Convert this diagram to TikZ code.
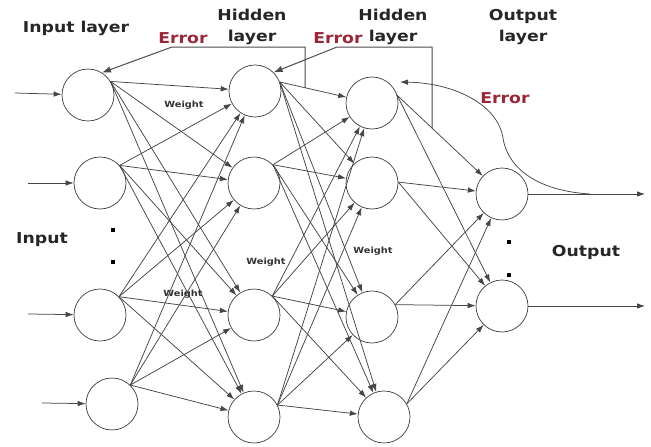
\documentclass[tikz,border=0pt]{standalone}
\usepackage{fontspec}
\setsansfont{DejaVu Sans}[FakeStretch=1.15]
\usetikzlibrary{arrows.meta}
\definecolor{errred}{RGB}{155,40,55}
\definecolor{ln}{RGB}{70,70,70}
\begin{document}
\begin{tikzpicture}[x=1pt,y=-1pt,
  neuron/.style={circle,draw=black!75,line width=0.7pt,minimum size=52pt,inner sep=0pt},
  conn/.style={draw=ln,line width=0.75pt,-{Latex[length=8pt,width=5.5pt]}},
  errline/.style={draw=black!70,line width=1pt,-{Latex[length=9pt,width=6.5pt]}},
  lab/.style={font=\sffamily\bfseries\fontsize{15}{21}\selectfont,text=black!85,align=center,inner sep=0pt},
  err/.style={font=\sffamily\bfseries\fontsize{15}{21}\selectfont,text=errred,inner sep=0pt},
  wt/.style={font=\sffamily\bfseries\fontsize{8.5}{10}\selectfont,text=black!80,inner sep=0pt},
  sqdot/.style={fill=black,minimum size=4pt,inner sep=0pt}]
\useasboundingbox[fill=white] (0,0) rectangle (651,447);

% neurons
\node[neuron] (I1) at (88,95) {};
\node[neuron] (I2) at (100,183) {};
\node[neuron] (I3) at (100,315) {};
\node[neuron] (I4) at (112,404) {};
\node[neuron] (H1) at (255,91) {};
\node[neuron] (H2) at (254,183) {};
\node[neuron] (H3) at (254,315) {};
\node[neuron] (H4) at (254,417) {};
\node[neuron] (J1) at (372,103) {};
\node[neuron] (J2) at (372,183) {};
\node[neuron] (J3) at (372,317) {};
\node[neuron] (J4) at (384,417) {};
\node[neuron] (O1) at (502,194) {};
\node[neuron] (O2) at (502,306) {};

% connections
\foreach \s/\a in {I1/31,I2/42,I3/44,I4/46}
  \foreach \t in {H1,H2,H3,H4}
    \draw[conn] (\s.\a) -- (\t);
\foreach \s/\a in {H1/20,H2/44,H3/46,H4/27}
  \foreach \t in {J1,J2,J3,J4}
    \draw[conn] (\s.\a) -- (\t);
\foreach \s/\a in {J1/17,J2/2,J3/28,J4/30}
  \foreach \t in {O1,O2}
    \draw[conn] (\s.\a) -- (\t);

% inputs and outputs
\coordinate (in1) at (15,93);
\coordinate (in2) at (28,183);
\coordinate (in3) at (28,314);
\coordinate (in4) at (42,403);
\draw[conn] (in1) -- (I1);
\draw[conn] (in2) -- (I2);
\draw[conn] (in3) -- (I3);
\draw[conn] (in4) -- (I4);
\coordinate (out1) at (645,194);
\coordinate (out2) at (645,306);
\draw[conn] (O1) -- (out1);
\draw[conn] (O2) -- (out2);

% error feedback
\path (H1.20) -- (J1) coordinate[pos=0.38] (e1a);
\coordinate (e1b) at (e1a |- 0,47);
\coordinate (e1c) at (172,47);
\draw[errline] (e1a) -- (e1b) -- (e1c) -- (I1.58);
\coordinate (e2a) at (432,128);
\coordinate (e2b) at (432,47);
\coordinate (e2c) at (337,47);
\draw[errline] (e2a) -- (e2b) -- (e2c) -- (H1.45);
\coordinate (e3a) at (590,194);
\coordinate (e3b) at (400,82);
\draw[conn] (e3a) .. controls (540,191) and (508,170) .. (503,138)
  .. controls (498,105) and (455,83) .. (e3b);

% labels
\node[lab] (tIL) at (76,28) {Input layer};
\node[lab] (tH1) at (252,27) {Hidden\\layer};
\node[lab] (tH2) at (393,27) {Hidden\\layer};
\node[lab] (tOL) at (523,27) {Output\\layer};
\node[err] (r1) at (183,38) {Error};
\node[err] (r2) at (338,38) {Error};
\node[err] (r3) at (505,98) {Error};
\node[lab] (tin) at (42,240) {Input};
\node[lab] (tout) at (586,252) {Output};
\node[wt] (w1) at (184,105) {Weight};
\node[wt] (w2) at (266,262) {Weight};
\node[wt] (w3) at (183,294) {Weight};
\node[wt] (w4) at (373,251) {Weight};

% dots
\node[sqdot] (d1) at (113,230) {};
\node[sqdot] (d2) at (113,262) {};
\node[sqdot] (d3) at (509,242) {};
\node[sqdot] (d4) at (509,275) {};
\end{tikzpicture}
\end{document}
